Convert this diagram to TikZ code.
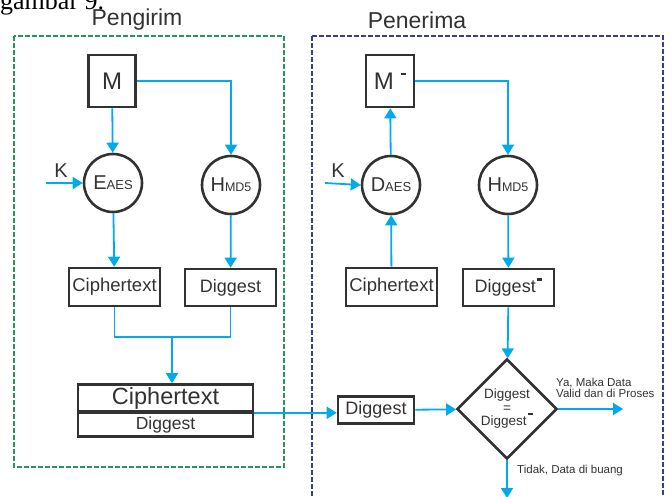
\documentclass[tikz,border=0pt]{standalone}
\usepackage{fontspec}
\setmainfont{Liberation Sans}
\newfontfamily\capfont{Liberation Serif}
\usetikzlibrary{arrows.meta,shapes.geometric}
\definecolor{flow}{RGB}{0,170,235}
\definecolor{edge}{RGB}{50,50,50}
\definecolor{sendgreen}{RGB}{40,150,90}
\definecolor{recvblue}{RGB}{60,60,150}
\newcommand\fsz[1]{\fontsize{#1}{#1}\selectfont}
\newcommand\primebar[2]{\hspace{#1}\raisebox{#2}{\rule{5.5pt}{2.4pt}}}
\tikzset{
  box/.style={draw=edge,line width=2.6pt,text=edge,inner sep=0pt},
  proc/.style={circle,draw=edge,line width=2.6pt,text=edge,minimum size=58pt,inner sep=0pt},
  flowline/.style={draw=flow,line width=1.8pt},
  flowarrow/.style={flowline,-{Triangle[length=10pt,width=12pt]}},
  frame/.style={dashed,dash pattern=on 5pt off 2pt,line width=1.2pt},
}
\begin{document}
\begin{tikzpicture}[x=1pt,y=-1pt]
\useasboundingbox (0,0) rectangle (672,497);
\node[anchor=base west,inner sep=0pt,font=\capfont\fsz{26}] (cap) at (0,10) {gambar 9.};
% frames
\draw[frame,sendgreen] (14,36) rectangle (284,467);
\draw[frame,recvblue] (312,36) rectangle (663,510);
\node[text=edge,font=\fsz{23}] (pengirim) at (137,20) {Pengirim};
\node[text=edge,font=\fsz{23}] (penerima) at (417,20) {Penerima};
% pengirim
\node[box,minimum width=47pt,minimum height=52pt,font=\fsz{24}] (mS) at (112,81) {M};
\node[proc] (enc) at (113,183) {\fsz{20}E\fsz{13}AES};
\node[proc] (hashS) at (231,185) {\fsz{20}H\fsz{12.5}MD5};
\node[box,minimum width=91pt,minimum height=38pt,font=\fsz{18.5}] (ctS) at (114.5,287) {Ciphertext};
\node[box,minimum width=91pt,minimum height=37pt,font=\fsz{18}] (dgS) at (230.5,287.5) {Diggest};
\node[box,minimum width=175pt,minimum height=27pt,font=\fsz{23.5}] (pktC) at (165.5,398) {Ciphertext};
\node[box,minimum width=175pt,minimum height=24pt,font=\fsz{17.5}] (pktD) at (165.5,424.5) {Diggest};
\coordinate (kS) at (46,183);
\coordinate (jn) at (172,337);
\node[text=edge,font=\fsz{20},inner sep=0pt] (kSl) at (61,171) {K};
\draw[flowarrow] (mS) -- (enc);
\draw[flowarrow] (mS.east) -| (hashS.north);
\draw[flowarrow] (kS) -- (enc.west);
\draw[flowarrow] (enc) -- (ctS);
\draw[flowarrow] (hashS) -- (dgS);
\draw[flowline] (ctS.south) |- (jn) -| (dgS.south);
\draw[flowarrow] (jn) -- (jn |- pktC.north);
% penerima
\node[box,minimum width=48pt,minimum height=52pt,font=\fsz{24}] (mR) at (390,81) {M\primebar{7pt}{14pt}};
\node[proc] (dec) at (391,185) {\fsz{20}D\fsz{13}AES};
\node[proc] (hashR) at (508,185) {\fsz{20}H\fsz{12.5}MD5};
\node[box,minimum width=91pt,minimum height=38pt,font=\fsz{18.5}] (ctR) at (391.5,287) {Ciphertext};
\node[box,minimum width=91pt,minimum height=37pt,font=\fsz{18}] (dgR) at (508.5,287.5) {\raisebox{-4pt}{Diggest}\primebar{1pt}{8pt}};
\node[box,minimum width=76pt,minimum height=27pt,font=\fsz{18}] (dgIn) at (376,410) {Diggest};
\node[diamond,aspect=1,draw=edge,line width=2.6pt,text=edge,minimum size=100pt,inner sep=0pt,align=center,font=\fsz{13.5}] (cmp) at (507,409) {Diggest\\=\\Diggest\primebar{1pt}{11pt}};
\coordinate (kR) at (325,183);
\coordinate (yaEnd) at (623,409);
\coordinate (tdEnd) at (507,498);
\node[text=edge,font=\fsz{20},inner sep=0pt] (kRl) at (338,171) {K};
\draw[flowarrow] (dec) -- (mR);
\draw[flowarrow] (mR.east) -| (hashR.north);
\draw[flowarrow] (kR) -- (dec.west);
\draw[flowarrow] (ctR) -- (dec);
\draw[flowarrow] (hashR) -- (dgR);
\draw[flowarrow] (dgR) -- (cmp);
\draw[flowarrow] (pktC.south east) -- (pktC.south east -| dgIn.west);
\draw[flowarrow] (dgIn) -- (cmp);
\draw[flowarrow] (cmp.east) -- (yaEnd);
\draw[flowarrow] (cmp.south) -- (tdEnd);
\node[anchor=west,align=left,text=edge,font=\fsz{11.5},inner sep=0pt] (ya) at (556,388) {Ya, Maka Data\\Valid dan di Proses};
\node[anchor=west,text=edge,font=\fsz{11.5},inner sep=0pt] (tidak) at (517,471) {Tidak, Data di buang};
\end{tikzpicture}
\end{document}
